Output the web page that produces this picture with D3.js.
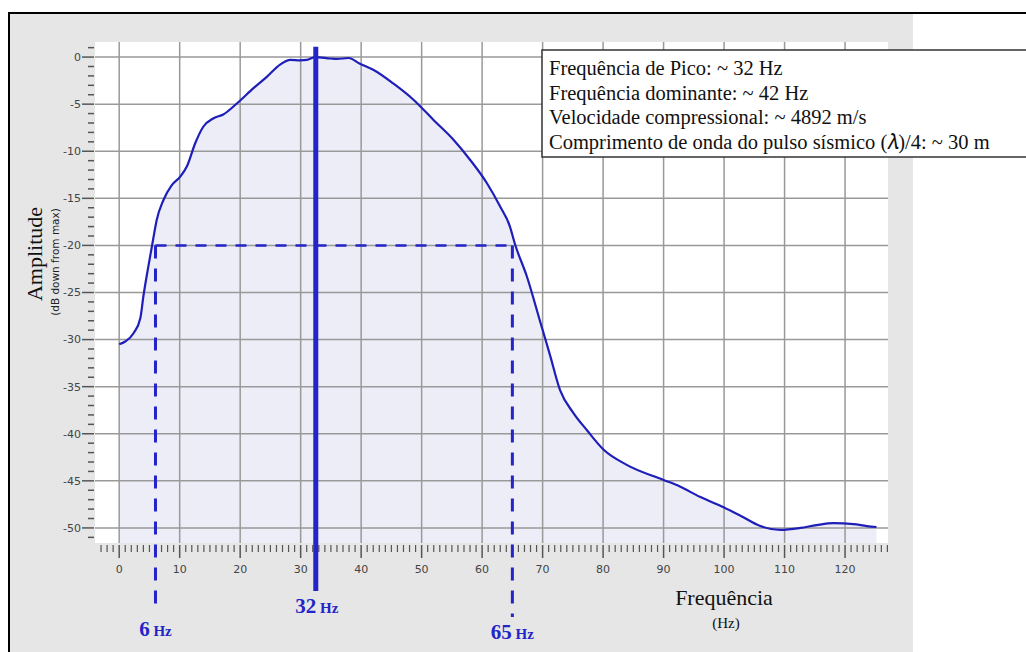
<!DOCTYPE html>
<html>
<head>
<meta charset="utf-8">
<script src="https://cdn.jsdelivr.net/npm/d3@7"></script>
<style>
  body { margin: 0; background: #fff; }
  .tickText { font-family: "DejaVu Sans", sans-serif; font-size: 11px; fill: #444; }
  .serif { font-family: "Liberation Serif", "Times New Roman", serif; }
</style>
</head>
<body>
<div class="chart"></div>
<script>
// spectrum (Hz, dB down from max)
var freq = [0, 1, 2.4, 3.5, 4, 4.8, 5.6, 6.2, 7.3, 8.7, 10.1, 11.2, 12.6, 13.9, 15.6, 17.2,
  19.5, 22.2, 24.4, 26.6, 28.3, 29.9, 31, 32.4, 34.9, 36, 37.9, 39.8, 42, 45.3, 48.6, 52,
  55.3, 58, 60.8, 63, 64.6, 65.4, 67.4, 69.6, 71.2, 72.9, 75.1, 77.3, 80.1, 83.9, 90,
  92.7, 96, 99.9, 102.7, 106, 109.3, 112.6, 115.3, 118.1, 121.4, 123.6, 125.2];
var amp = [-30.5, -30.2, -29.3, -27.7, -25.4, -22.3, -19.4, -17.3, -15.2, -13.6, -12.7, -11.6,
  -9.1, -7.4, -6.5, -6.1, -4.9, -3.3, -2.1, -0.8, -0.3, -0.35, -0.3, 0, -0.15, -0.2, -0.1,
  -0.7, -1.35, -2.8, -4.5, -6.7, -8.8, -10.9, -13.4, -15.9, -18, -19.8, -23.3, -28.1,
  -31.6, -35.4, -37.8, -39.6, -41.7, -43.3, -44.9, -45.6, -46.7, -47.8, -48.7, -49.8, -50.2,
  -50.0, -49.7, -49.5, -49.6, -49.8, -49.9];

var xTicks = d3.range(0, 121, 10);
var yTicks = d3.range(0, -51, -5);

var peakFreq = 32.5, peakLabel = "32";
var cutFreqs = [6, 65], cutLabels = ["6", "65"];
var cutDb = -20;

var infoLines = [
  "Frequência de Pico: ~ 32 Hz",
  "Frequência dominante: ~ 42 Hz",
  "Velocidade compressional: ~ 4892 m/s",
  "Comprimento de onda do pulso sísmico (𝜆)/4: ~ 30 m"
];

var svgWidth = 1026, svgHeight = 652;
var plot = { left: 95, right: 888, top: 42, bottom: 543 };
var blue = "#2424c8";

var svg = d3.select(".chart").append("svg")
  .attr("width", svgWidth)
  .attr("height", svgHeight);

// frame + grey backdrop
svg.append("rect").attr("x", 10).attr("y", 14).attr("width", 903).attr("height", 640).attr("fill", "#e6e6e6");
svg.append("path").attr("d", "M9,652 V13 H1026").attr("fill", "none").attr("stroke", "#000").attr("stroke-width", 2);
svg.append("rect").attr("x", plot.left).attr("y", plot.top)
  .attr("width", plot.right - plot.left).attr("height", plot.bottom - plot.top).attr("fill", "#fff");

var x = d3.scaleLinear().domain([-4, 127.1]).range([plot.left, plot.right]);
var y = d3.scaleLinear().domain([-51.6, 1.6]).range([plot.bottom, plot.top]);

var pts = freq.map((f, i) => [f, amp[i]]);

// filled area under the spectrum
svg.append("path")
  .datum(pts)
  .attr("fill", "#ededf8")
  .attr("d", d3.area().x(d => x(d[0])).y0(plot.bottom).y1(d => y(d[1])).curve(d3.curveMonotoneX));

// grid
svg.append("g").selectAll("line").data(xTicks).enter().append("line")
  .attr("x1", d => x(d)).attr("x2", d => x(d))
  .attr("y1", plot.top).attr("y2", plot.bottom)
  .attr("stroke", "#999").attr("stroke-width", 1.5);
svg.append("g").selectAll("line").data(yTicks).enter().append("line")
  .attr("x1", plot.left).attr("x2", plot.right)
  .attr("y1", d => y(d)).attr("y2", d => y(d))
  .attr("stroke", "#999").attr("stroke-width", 1.5);

// x axis ticks (minor every 1 Hz)
var xAxisG = svg.append("g");
xAxisG.selectAll("line.minor").data(d3.range(-3, 128)).enter().append("line")
  .attr("x1", d => x(d)).attr("x2", d => x(d))
  .attr("y1", plot.bottom + 2).attr("y2", d => d % 10 === 0 ? plot.bottom + 15 : plot.bottom + 9)
  .attr("stroke", "#555").attr("stroke-width", d => d % 10 === 0 ? 1.5 : 1.2);
xAxisG.selectAll("text").data(xTicks).enter().append("text")
  .attr("class", "tickText")
  .attr("x", d => x(d)).attr("y", plot.bottom + 30)
  .attr("text-anchor", "middle")
  .text(d => d);

// y axis ticks (minor every 1 dB)
var yAxisG = svg.append("g");
yAxisG.selectAll("line").data(d3.range(1, -52, -1)).enter().append("line")
  .attr("y1", d => y(d)).attr("y2", d => y(d))
  .attr("x1", d => d % 5 === 0 ? plot.left - 13 : plot.left - 7).attr("x2", plot.left - 1)
  .attr("stroke", "#555").attr("stroke-width", 1.5);
yAxisG.selectAll("text").data(yTicks).enter().append("text")
  .attr("class", "tickText")
  .attr("x", plot.left - 14).attr("y", d => y(d)).attr("dy", "0.35em")
  .attr("text-anchor", "end")
  .text(d => d);

// spectrum line
svg.append("path")
  .datum(pts)
  .attr("fill", "none")
  .attr("stroke", "#1e1eb8")
  .attr("stroke-width", 2.2)
  .attr("d", d3.line().x(d => x(d[0])).y(d => y(d[1])).curve(d3.curveMonotoneX));

// -20 dB band markers
svg.append("line")
  .attr("x1", x(cutFreqs[0])).attr("x2", x(cutFreqs[1]))
  .attr("y1", y(cutDb)).attr("y2", y(cutDb))
  .attr("stroke", blue).attr("stroke-width", 2.5).attr("stroke-dasharray", "11,9");
var cutDrop = [68, 74];
cutFreqs.forEach(function (f, i) {
  svg.append("line")
    .attr("x1", x(f)).attr("x2", x(f))
    .attr("y1", y(cutDb)).attr("y2", plot.bottom + cutDrop[i])
    .attr("stroke", blue).attr("stroke-width", 3).attr("stroke-dasharray", "13,10");
  var t = svg.append("text").attr("class", "serif")
    .attr("x", x(f)).attr("y", plot.bottom + 93 + i * 3)
    .attr("text-anchor", "middle")
    .attr("fill", blue).attr("font-weight", "bold");
  t.append("tspan").attr("font-size", 21).text(cutLabels[i]);
  t.append("tspan").attr("font-size", 15).text(" Hz");
});

// peak marker
svg.append("line")
  .attr("x1", x(peakFreq)).attr("x2", x(peakFreq))
  .attr("y1", y(1.1)).attr("y2", plot.bottom + 48)
  .attr("stroke", blue).attr("stroke-width", 5);
var pt = svg.append("text").attr("class", "serif")
  .attr("x", x(peakFreq) + 1).attr("y", plot.bottom + 70)
  .attr("text-anchor", "middle")
  .attr("fill", blue).attr("font-weight", "bold");
pt.append("tspan").attr("font-size", 21).text(peakLabel);
pt.append("tspan").attr("font-size", 15).text(" Hz");

// axis titles
svg.append("text").attr("class", "serif")
  .attr("transform", "translate(42,254) rotate(-90)")
  .attr("text-anchor", "middle").attr("font-size", 22).attr("fill", "#111")
  .text("Amplitude");
svg.append("text")
  .attr("transform", "translate(59,262) rotate(-90)")
  .attr("text-anchor", "middle")
  .style("font-family", "'DejaVu Sans', sans-serif").attr("font-size", 10.5).attr("fill", "#222")
  .text("(dB down from max)");
svg.append("text").attr("class", "serif")
  .attr("x", 724).attr("y", 605)
  .attr("text-anchor", "middle").attr("font-size", 22).attr("fill", "#111")
  .text("Frequência");
svg.append("text").attr("class", "serif")
  .attr("x", 726).attr("y", 628)
  .attr("text-anchor", "middle").attr("font-size", 15).attr("fill", "#111")
  .text("(Hz)");

// info box
svg.append("rect")
  .attr("x", 542).attr("y", 50).attr("width", 500).attr("height", 107)
  .attr("fill", "#fff").attr("stroke", "#333").attr("stroke-width", 1.5);
svg.append("g").selectAll("text").data(infoLines).enter().append("text")
  .attr("class", "serif")
  .attr("x", 549).attr("y", (d, i) => 75 + i * 24.6)
  .attr("font-size", 20.5).attr("fill", "#111")
  .text(d => d);
</script>
</body>
</html>
